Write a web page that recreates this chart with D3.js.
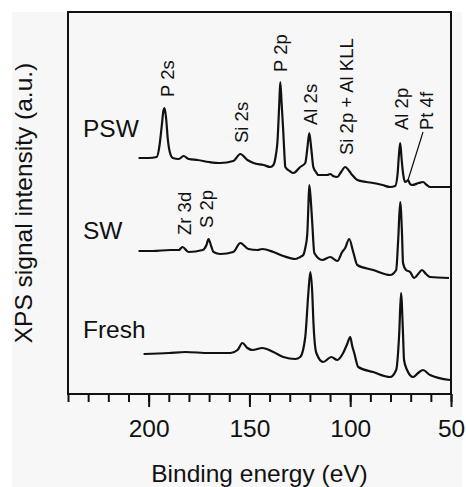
<!DOCTYPE html>
<meta charset="utf-8">
<style>
body { margin: 0; background: #fff; }
text { font-family: "Liberation Sans", Arial, sans-serif; fill: #111; }
.spectrum { fill: none; stroke: #111; stroke-width: 2.2px; stroke-linejoin: round; }
.frame { fill: none; stroke: #111; stroke-width: 2px; }
.axis path { display: none; }
.axis line { stroke: #111; stroke-width: 2px; }
.axis text { font-size: 24.5px; }
.peak { font-size: 18.5px; }
.sample { font-size: 24.5px; }
.title { font-size: 24.5px; }
</style>
<svg width="466" height="487"></svg>
<script src="https://d3js.org/d3.v7.min.js"></script>
<script>

// spectra: [binding energy (eV), intensity (a.u., stacked)]
var psw = [
  [205, 236], [200, 236], [196, 237], [194.5, 250], [193.5, 268], [192.6, 284], [192.1, 286],
  [191.3, 275], [190.5, 255], [189.5, 242], [188, 236], [185, 235], [182.7, 238], [180, 235],
  [175.7, 234], [170, 232], [164.4, 231], [158, 233], [154.5, 240], [151, 234], [148, 231],
  [143, 229], [139.6, 227], [138.1, 229], [136.8, 240], [136.1, 252], [135.2, 290], [134.7, 312],
  [134, 290], [133.2, 262], [132.6, 238], [132.2, 227], [130, 223], [128.2, 221], [124.8, 227],
  [122.3, 231], [121.3, 245], [120.3, 261], [119.3, 245], [118.3, 227], [117, 222], [115.8, 219],
  [111.4, 219], [109.9, 220], [108.5, 218], [106.4, 217], [104.5, 222], [102.5, 227], [100.5, 223],
  [99, 219], [96.5, 214], [92, 212], [88.6, 211], [84, 209], [80.2, 207], [77.7, 208], [76.5, 220],
  [75.8, 240], [75.2, 251], [74.5, 235], [73.8, 221], [72.8, 212], [71.8, 213], [71.3, 214],
  [70.3, 210], [69.3, 209], [66, 211], [63.9, 212], [62, 209], [60.4, 207], [55, 207], [50.5, 207]
];

var sw = [
  [205, 143], [198, 143], [189.2, 144], [185, 144], [183.2, 147], [180.2, 142], [173.2, 144],
  [171.3, 149], [170.3, 155], [169, 148], [167.8, 142], [164.4, 140], [158, 142], [154.5, 151],
  [150.5, 145], [146, 144], [143.6, 145], [138.1, 142], [133.2, 138], [127.2, 135], [124.8, 137],
  [123.3, 139], [122.3, 146], [121.3, 160], [120.8, 185], [120.3, 209], [119.6, 195], [118.8, 170],
  [117.8, 141], [113.9, 134], [109.9, 137], [106.4, 133], [104, 142], [102.5, 146], [100.5, 155],
  [98.5, 142], [96.5, 129], [88.6, 124], [80.2, 119], [77.2, 124], [76.2, 154], [75.2, 192],
  [74.3, 160], [73.8, 131], [72.3, 124], [70.3, 122], [68.3, 116], [66.3, 120], [64.4, 124],
  [62.4, 120], [60.4, 117], [51, 116]
];

var fresh = [
  [202.5, 40], [190, 41], [181.7, 42], [170, 41], [159.4, 41], [155.9, 44], [153.5, 51],
  [151, 46], [148.5, 44], [143.6, 46], [138.1, 42], [133.2, 37], [127.2, 35], [124.8, 37],
  [122.3, 57], [120.8, 100], [119.8, 122], [118.8, 100], [118.3, 74], [116.8, 41], [113.4, 32],
  [109.4, 37], [106.4, 34], [103.5, 41], [101.5, 50], [100, 57], [99, 48], [98, 41], [96, 27],
  [88.6, 22], [80.2, 17], [77.2, 24], [75.7, 60], [74.8, 101], [73.8, 60], [73.3, 34],
  [71.8, 24], [68.8, 17], [66.3, 21], [63.9, 24], [60.4, 19], [50.5, 14]
];

var samples = ["PSW", "SW", "Fresh"];
var sampleLevels = [257, 155, 56];

var peakNames = ["P 2s", "Si 2s", "P 2p", "Al 2s", "Si 2p + Al KLL", "Al 2p", "Pt 4f", "Zr 3d", "S 2p"];
var peakEnergies = [191.1, 154, 134.7, 119.8, 102, 74.8, 62.4, 182.7, 171.3];
var peakLevels = [297, 251, 322, 269, 239, 264, 264, 159, 166];

var majorTicks = [200, 150, 100, 50];

var svg = d3.select("svg"),
    margin = {top: 12, right: 15, bottom: 93, left: 68},
    width = 466 - margin.left - margin.right,
    height = 487 - margin.top - margin.bottom;

svg.append("rect")
    .attr("x", 12).attr("y", 12)
    .attr("width", 450).attr("height", 475)
    .attr("fill", "#f7f7f7");

var x = d3.scaleLinear().domain([240, 50]).range([margin.left, margin.left + width]);
var y = d3.scaleLinear().domain([0, 382]).range([margin.top + height, margin.top]);

var line = d3.line()
    .x(function(d) { return x(d[0]); })
    .y(function(d) { return y(d[1]); })
    .curve(d3.curveMonotoneX);

svg.selectAll("path.spectrum")
    .data([psw, sw, fresh])
  .enter().append("path")
    .attr("class", "spectrum")
    .attr("d", line);

// minor + major ticks on the bottom
svg.append("g")
    .attr("class", "axis")
    .attr("transform", "translate(0," + (margin.top + height) + ")")
    .call(d3.axisBottom(x).tickValues(d3.range(50, 241, 10)).tickSize(8).tickFormat(""));

svg.append("g")
    .attr("class", "axis")
    .attr("transform", "translate(0," + (margin.top + height) + ")")
    .call(d3.axisBottom(x).tickValues(majorTicks).tickSize(13).tickPadding(13).tickFormat(d3.format("d")));

svg.append("rect")
    .attr("class", "frame")
    .attr("x", margin.left).attr("y", margin.top)
    .attr("width", width).attr("height", height);

// sample names
svg.selectAll("text.sample")
    .data(samples)
  .enter().append("text")
    .attr("class", "sample")
    .attr("x", margin.left + 15)
    .attr("y", function(d, i) { return y(sampleLevels[i]); })
    .text(function(d) { return d; });

// peak labels
svg.selectAll("text.peak")
    .data(peakNames)
  .enter().append("text")
    .attr("class", "peak")
    .attr("transform", function(d, i) {
      return "translate(" + (x(peakEnergies[i]) + 7) + "," + y(peakLevels[i]) + ") rotate(-90)";
    })
    .text(function(d) { return d; });

// Pt 4f leader
svg.append("line")
    .attr("x1", x(62.4) - 3).attr("y1", y(262))
    .attr("x2", x(71.3)).attr("y2", y(214))
    .attr("stroke", "#111").attr("stroke-width", 1.2);

svg.append("text")
    .attr("class", "title")
    .attr("text-anchor", "middle")
    .attr("x", margin.left + width / 2)
    .attr("y", 482)
    .text("Binding energy (eV)");

svg.append("text")
    .attr("class", "title")
    .attr("text-anchor", "middle")
    .attr("transform", "translate(32," + (margin.top + height / 2) + ") rotate(-90)")
    .text("XPS signal intensity (a.u.)");

</script>
